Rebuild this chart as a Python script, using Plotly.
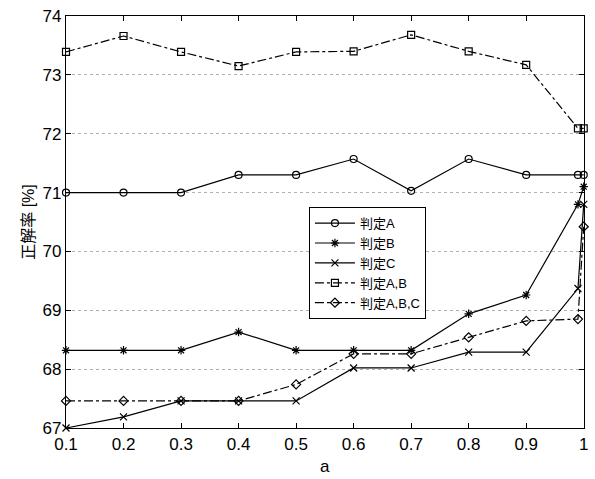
import plotly.graph_objects as go

x_vals = [0.1, 0.2, 0.3, 0.4, 0.5, 0.6, 0.7, 0.8, 0.9, 0.99, 1.0]
judge_a = [71.0, 71.0, 71.0, 71.3, 71.3, 71.57, 71.03, 71.57, 71.3, 71.3, 71.3]
judge_b = [68.32, 68.32, 68.32, 68.63, 68.32, 68.32, 68.32, 68.94, 69.26, 70.8, 71.1]
judge_c = [67.0, 67.19, 67.46, 67.46, 67.46, 68.02, 68.02, 68.29, 68.29, 69.37, 70.8]
judge_ab = [73.39, 73.66, 73.39, 73.15, 73.39, 73.4, 73.68, 73.4, 73.17, 72.09, 72.09]
judge_abc = [67.46, 67.46, 67.46, 67.46, 67.74, 68.26, 68.26, 68.54, 68.82, 68.85, 70.42]
x_ticks = [0.1, 0.2, 0.3, 0.4, 0.5, 0.6, 0.7, 0.8, 0.9, 1.0]
x_tick_text = ["0.1", "0.2", "0.3", "0.4", "0.5", "0.6", "0.7", "0.8", "0.9", "1"]
y_ticks = [67, 68, 69, 70, 71, 72, 73, 74]

series = [
    ("判定A", judge_a, "circle-open", "solid"),
    ("判定B", judge_b, "asterisk-open", "solid"),
    ("判定C", judge_c, "x-thin-open", "solid"),
    ("判定A,B", judge_ab, "square-open", "dashdot"),
    ("判定A,B,C", judge_abc, "diamond-open", "dashdot"),
]

fig = go.Figure()
for name, ys, sym, dash in series:
    fig.add_trace(go.Scatter(
        x=x_vals, y=ys, name=name, mode="lines+markers", cliponaxis=False,
        line=dict(color="black", width=1.2, dash=dash),
        marker=dict(symbol=sym, size=7, color="black", line=dict(color="black", width=1.2)),
    ))

font_main = "Liberation Sans, Arial, Noto Sans CJK JP, sans-serif"
fig.update_layout(
    width=595, height=479,
    margin=dict(l=66, r=7, t=12, b=51),
    paper_bgcolor="white", plot_bgcolor="white",
    font=dict(family=font_main, color="black", size=16),
    showlegend=True,
    legend=dict(
        x=0.469, y=0.536, xanchor="left", yanchor="top",
        bgcolor="white", bordercolor="black", borderwidth=1,
        font=dict(size=13, family=font_main, color="black"),
        tracegroupgap=0, itemwidth=40,
    ),
    xaxis=dict(
        range=[0.1, 1.0005], tickvals=x_ticks, ticktext=x_tick_text,
        ticks="inside", ticklen=5, tickcolor="black",
        showline=True, linecolor="black", linewidth=1.2, mirror="ticks",
        showgrid=False, zeroline=False,
        tickfont=dict(size=17, color="black"),
    ),
    yaxis=dict(
        range=[67, 74], tickvals=y_ticks,
        ticks="inside", ticklen=5, tickcolor="black",
        showline=True, linecolor="black", linewidth=1.2, mirror="ticks",
        showgrid=True, gridcolor="#b0b0b0", griddash="dot", gridwidth=1,
        zeroline=False,
        tickfont=dict(size=17, color="black"),
        title=dict(text="正解率 [%]", font=dict(size=16, family=font_main, color="black"), standoff=3),
    ),
    annotations=[dict(
        text="a", xref="paper", yref="paper", x=0.5, y=0, yshift=-38,
        xanchor="center", yanchor="middle", showarrow=False,
        font=dict(size=17, color="black", family=font_main),
    )],
)

fig.write_html(
    "out.html",
    config={"displayModeBar": False},
    post_script="document.body.style.margin='0';document.body.style.overflow='hidden';",
)
